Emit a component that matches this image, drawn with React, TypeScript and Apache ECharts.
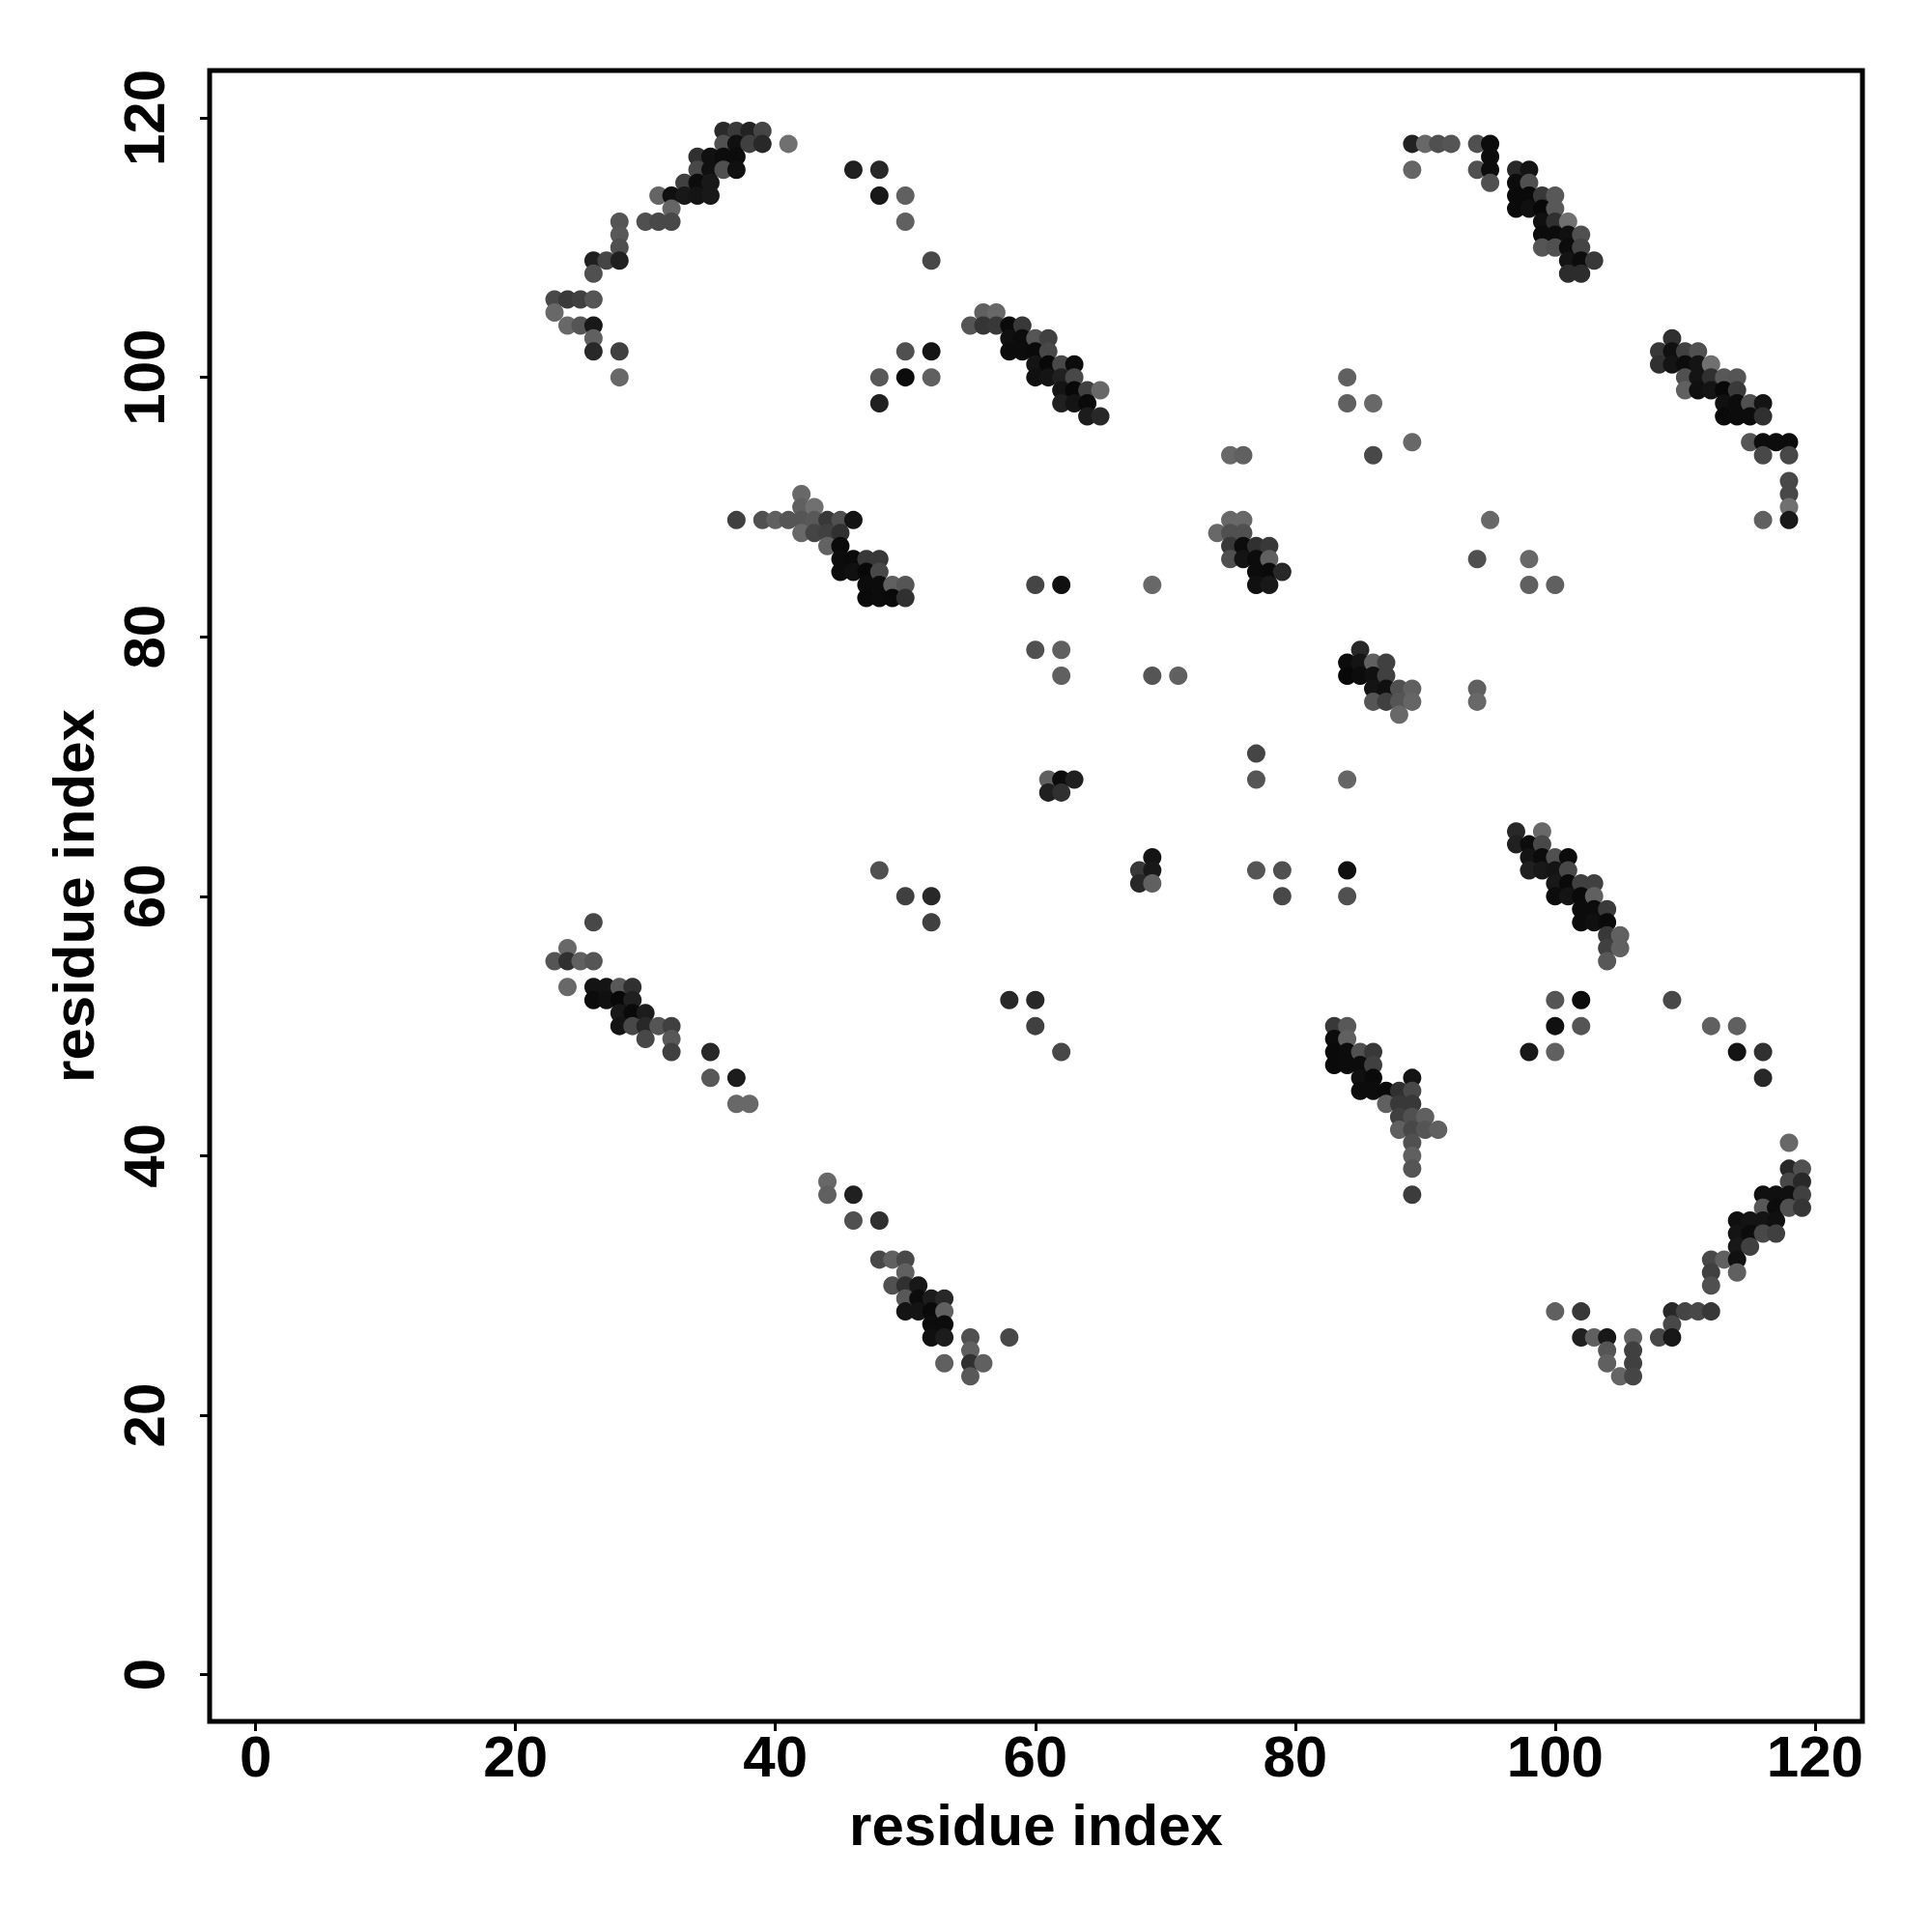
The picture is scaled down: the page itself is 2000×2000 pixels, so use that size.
import React, { useEffect, useRef } from "react";
import * as echarts from "echarts";

type P = [number, number, number];

const xTicks = [0, 20, 40, 60, 80, 100, 120];
const yTicks = [0, 20, 40, 60, 80, 100, 120];
const xName = "residue index";
const yName = "residue index";

// each point: [residue x, residue y, grey level]
const topLeftArc: P[] = [
  [36,119,0x2a],[37,119,0x3a],[38,119,0x22],[39,119,0x45],
  [36,118,0x50],[37,118,0x10],[38,118,0x40],[39,118,0x28],[41,118,0x70],
  [34,117,0x30],[35,117,0x10],[36,117,0x0c],[37,117,0x0c],
  [34,116,0x48],[35,116,0x10],[36,116,0x50],[37,116,0x10],
  [33,115,0x40],[34,115,0x0c],[35,115,0x18],
  [31,114,0x65],[32,114,0x10],[33,114,0x18],[34,114,0x14],[35,114,0x18],
  [32,113,0x65],[30,112,0x50],[31,112,0x48],[32,112,0x48],[28,112,0x55],
  [28,111,0x58],[28,110,0x50],[26,109,0x20],[27,109,0x45],[28,109,0x20],[26,108,0x50],
  [23,106,0x48],[24,106,0x3a],[25,106,0x40],[26,106,0x55],[23,105,0x68],
  [24,104,0x68],[25,104,0x55],[26,104,0x18],[26,103,0x60],[26,102,0x28],[28,102,0x40],[28,100,0x68],
];
const topMiddle: P[] = [
  [46,116,0x20],[48,116,0x28],[48,114,0x18],[50,114,0x60],[50,112,0x60],[52,109,0x48],
  [48,100,0x58],[48,98,0x20],[50,102,0x50],[50,100,0x0c],[52,102,0x14],[52,100,0x60],
];
const topRightArc: P[] = [
  [89,118,0x22],[90,118,0x68],[91,118,0x50],[92,118,0x55],[94,118,0x50],[95,118,0x0c],
  [95,117,0x0c],[89,116,0x65],[94,116,0x50],[95,116,0x0c],[97,116,0x28],[98,116,0x14],
  [95,115,0x50],[97,115,0x0c],[98,115,0x50],
  [97,114,0x0a],[98,114,0x0a],[99,114,0x38],[100,114,0x58],
  [97,113,0x0a],[98,113,0x10],[99,113,0x08],[100,113,0x58],
  [99,112,0x10],[100,112,0x30],[101,112,0x70],
  [99,111,0x0c],[100,111,0x0c],[101,111,0x10],[102,111,0x50],
  [99,110,0x55],[100,110,0x50],[101,110,0x0c],[102,110,0x45],
  [101,109,0x14],[102,109,0x0c],[103,109,0x38],[101,108,0x2c],[102,108,0x2c],
];
const band60: P[] = [
  [56,105,0x60],[57,105,0x68],
  [55,104,0x55],[56,104,0x35],[57,104,0x38],[58,104,0x0a],[59,104,0x38],
  [58,103,0x10],[59,103,0x0c],[60,103,0x55],[61,103,0x40],
  [58,102,0x0c],[59,102,0x0c],[60,102,0x0a],[61,102,0x48],
  [60,101,0x14],[61,101,0x08],[62,101,0x48],[63,101,0x0c],
  [60,100,0x10],[61,100,0x14],[62,100,0x20],[63,100,0x48],
  [62,99,0x14],[63,99,0x08],[64,99,0x40],[65,99,0x68],
  [62,98,0x20],[63,98,0x14],[64,98,0x0a],[64,97,0x1c],[65,97,0x28],
];
const band110: P[] = [
  [109,103,0x30],[108,102,0x38],[109,102,0x10],[110,102,0x40],[111,102,0x50],
  [108,101,0x30],[109,101,0x14],[110,101,0x0c],[111,101,0x14],[112,101,0x70],
  [110,100,0x50],[111,100,0x14],[112,100,0x30],[113,100,0x58],[114,100,0x55],
  [110,99,0x60],[111,99,0x10],[112,99,0x14],[113,99,0x08],[114,99,0x3a],
  [113,98,0x10],[114,98,0x0c],[115,98,0x50],[116,98,0x14],
  [113,97,0x0a],[114,97,0x0c],[115,97,0x0c],[116,97,0x30],
  [115,95,0x55],[116,95,0x0c],[117,95,0x0c],[118,95,0x0c],[116,94,0x48],[118,94,0x48],
  [118,92,0x48],[118,91,0x48],[118,90,0x70],[118,89,0x18],[116,89,0x60],
];
const scatterUpper: P[] = [
  [84,100,0x60],[84,98,0x60],[86,98,0x68],[86,94,0x48],[89,95,0x68],[75,94,0x68],[76,94,0x60],
  [95,89,0x68],[94,86,0x50],[98,86,0x68],[98,84,0x60],[100,84,0x60],
  [60,84,0x45],[62,84,0x10],[69,84,0x68],[60,79,0x50],[62,79,0x60],[62,77,0x60],[69,77,0x55],[71,77,0x60],
];
const band45: P[] = [
  [42,91,0x68],[42,90,0x60],[43,90,0x70],
  [37,89,0x40],[39,89,0x50],[40,89,0x60],[41,89,0x55],[42,89,0x55],[43,89,0x58],[44,89,0x38],[45,89,0x50],[46,89,0x14],
  [42,88,0x68],[43,88,0x45],[44,88,0x40],[45,88,0x30],[44,87,0x62],[45,87,0x0a],
  [45,86,0x0c],[46,86,0x0a],[47,86,0x38],[48,86,0x38],
  [45,85,0x0c],[46,85,0x10],[47,85,0x08],[48,85,0x48],
  [47,84,0x0c],[48,84,0x0c],[49,84,0x60],[50,84,0x55],
  [47,83,0x0a],[48,83,0x0c],[49,83,0x0a],[50,83,0x30],
];
const band76: P[] = [
  [75,89,0x68],[76,89,0x68],[74,88,0x68],[75,88,0x50],[76,88,0x50],
  [75,87,0x38],[76,87,0x0c],[77,87,0x30],[78,87,0x38],
  [75,86,0x50],[76,86,0x14],[77,86,0x0c],[78,86,0x60],
  [77,85,0x0c],[78,85,0x0a],[79,85,0x28],[77,84,0x10],[78,84,0x18],
];
const band85: P[] = [
  [85,79,0x28],[84,78,0x0c],[85,78,0x14],[86,78,0x60],[87,78,0x40],
  [84,77,0x08],[85,77,0x0c],[86,77,0x10],[87,77,0x40],
  [86,76,0x14],[87,76,0x10],[88,76,0x50],[89,76,0x60],
  [86,75,0x55],[87,75,0x40],[88,75,0x55],[89,75,0x65],[88,74,0x68],
  [94,76,0x60],[94,75,0x68],
];
const scatterMiddle: P[] = [
  [77,71,0x45],[77,69,0x55],[84,69,0x65],[61,69,0x60],[62,69,0x0c],[63,69,0x20],[61,68,0x20],[62,68,0x30],
  [69,63,0x14],[68,62,0x38],[69,62,0x18],[68,61,0x28],[69,61,0x60],
  [48,62,0x50],[50,60,0x40],[52,60,0x28],[52,58,0x40],
  [77,62,0x55],[79,62,0x50],[79,60,0x48],[84,62,0x10],[84,60,0x50],
];
const band100: P[] = [
  [97,65,0x28],[99,65,0x68],[97,64,0x20],[98,64,0x0c],[99,64,0x48],
  [98,63,0x14],[99,63,0x0c],[100,63,0x50],[101,63,0x0c],
  [98,62,0x20],[99,62,0x18],[100,62,0x14],[101,62,0x48],
  [100,61,0x18],[101,61,0x0a],[102,61,0x40],[103,61,0x40],
  [100,60,0x0c],[101,60,0x14],[102,60,0x0a],[103,60,0x60],
  [102,59,0x0c],[103,59,0x0c],[104,59,0x3a],[102,58,0x0c],[103,58,0x10],[104,58,0x0a],
  [104,57,0x38],[105,57,0x60],[104,56,0x40],[105,56,0x60],[104,55,0x58],
];
const scatterLower: P[] = [
  [100,52,0x55],[102,52,0x0c],[100,50,0x10],[102,50,0x55],[98,48,0x18],[100,48,0x60],
  [109,52,0x48],[112,50,0x60],[114,50,0x60],[114,48,0x14],[116,48,0x30],[116,46,0x28],
  [58,52,0x28],[60,52,0x28],[60,50,0x40],[62,48,0x48],
];
const band28: P[] = [
  [26,58,0x48],[24,56,0x68],[23,55,0x55],[24,55,0x30],[25,55,0x60],[26,55,0x55],
  [24,53,0x68],[26,53,0x14],[27,53,0x14],[28,53,0x58],[29,53,0x30],
  [26,52,0x0c],[27,52,0x10],[28,52,0x08],[29,52,0x20],
  [28,51,0x18],[29,51,0x0a],[30,51,0x1c],
  [28,50,0x14],[29,50,0x48],[30,50,0x28],[31,50,0x55],[32,50,0x40],
  [30,49,0x48],[32,49,0x58],[32,48,0x40],[35,48,0x28],[35,46,0x58],[37,46,0x1c],[37,44,0x68],[38,44,0x68],
];
const band85Lower: P[] = [
  [83,50,0x38],[84,50,0x58],[83,49,0x0c],[84,49,0x60],
  [83,48,0x0a],[84,48,0x0c],[85,48,0x50],[86,48,0x38],
  [83,47,0x0a],[84,47,0x0c],[85,47,0x0c],[86,47,0x40],
  [85,46,0x10],[86,46,0x0a],[89,46,0x14],
  [85,45,0x0c],[86,45,0x0c],[87,45,0x0a],[88,45,0x30],[89,45,0x48],
  [87,44,0x60],[88,44,0x38],[89,44,0x38],
  [88,43,0x40],[89,43,0x50],[90,43,0x60],
  [88,42,0x60],[89,42,0x48],[90,42,0x55],[91,42,0x60],
  [89,41,0x50],[89,40,0x60],[89,39,0x55],[89,37,0x3c],
];
const band50Lower: P[] = [
  [44,38,0x68],[44,37,0x60],[46,37,0x20],[46,35,0x50],[48,35,0x30],
  [48,32,0x48],[49,32,0x60],[50,32,0x48],[50,31,0x60],
  [49,30,0x50],[50,30,0x30],[51,30,0x18],
  [50,29,0x58],[51,29,0x0c],[52,29,0x1c],[53,29,0x28],
  [50,28,0x14],[51,28,0x14],[52,28,0x0a],[53,28,0x60],
  [52,27,0x0c],[53,27,0x0c],[52,26,0x10],[53,26,0x1c],[55,26,0x50],[58,26,0x48],
  [55,25,0x60],[53,24,0x60],[55,24,0x30],[56,24,0x60],[55,23,0x58],
];
const bottomRightArc: P[] = [
  [118,41,0x68],[118,39,0x28],[119,39,0x50],[118,38,0x48],[119,38,0x28],
  [116,37,0x10],[117,37,0x10],[118,37,0x10],[119,37,0x40],
  [116,36,0x58],[117,36,0x0c],[118,36,0x50],[119,36,0x35],
  [114,35,0x10],[115,35,0x14],[116,35,0x14],[117,35,0x10],
  [114,34,0x14],[115,34,0x0c],[116,34,0x48],[117,34,0x40],
  [114,33,0x18],[115,33,0x40],[112,32,0x48],[113,32,0x60],[114,32,0x10],
  [112,31,0x40],[114,31,0x60],[112,30,0x50],
  [109,28,0x28],[110,28,0x45],[111,28,0x48],[112,28,0x38],[100,28,0x60],[102,28,0x38],
  [109,27,0x48],[108,26,0x48],[109,26,0x18],
  [102,26,0x20],[103,26,0x60],[104,26,0x18],[106,26,0x60],
  [104,25,0x55],[106,25,0x40],[104,24,0x60],[106,24,0x40],[105,23,0x65],[106,23,0x45],
];

const allPoints: P[] = [
  ...topLeftArc, ...topMiddle, ...topRightArc, ...band60, ...band110, ...scatterUpper,
  ...band45, ...band76, ...band85, ...scatterMiddle, ...band100, ...scatterLower,
  ...band28, ...band85Lower, ...band50Lower, ...bottomRightArc,
];

const FONT = "'Liberation Sans', Arial, sans-serif";
const FONT_SIZE = 60;

export default function App() {
  const ref = useRef<HTMLDivElement>(null);
  useEffect(() => {
    const chart = echarts.init(ref.current!, undefined, { renderer: "svg" });
    const axisCommon = {
      type: "value" as const,
      splitLine: { show: false },
      axisLine: { show: false, onZero: false },
      nameLocation: "middle" as const,
      nameTextStyle: { fontFamily: FONT, fontWeight: "bold" as const, fontSize: FONT_SIZE, color: "#000" },
    };
    chart.setOption({
      animation: false,
      backgroundColor: "#fff",
      grid: {
        left: 217,
        top: 73,
        width: 1711,
        height: 1709,
        show: true,
        borderColor: "#000",
        borderWidth: 5,
        backgroundColor: "#fff",
      },
      visualMap: {
        show: false,
        type: "continuous",
        dimension: 2,
        min: 0,
        max: 255,
        inRange: { color: ["#000000", "#ffffff"] },
      },
      xAxis: {
        ...axisCommon,
        min: -3.54,
        max: 123.65,
        name: xName,
        nameGap: 77,
        axisTick: { show: true, length: 10, lineStyle: { color: "#000", width: 3 }, customValues: xTicks },
        axisLabel: {
          show: true, margin: 6, fontFamily: FONT, fontWeight: "bold", fontSize: FONT_SIZE, color: "#000",
          customValues: xTicks, hideOverlap: false,
        },
      },
      yAxis: {
        ...axisCommon,
        min: -3.6,
        max: 123.65,
        name: yName,
        nameGap: 111,
        axisTick: { show: true, length: 10, lineStyle: { color: "#000", width: 3 }, customValues: yTicks },
        axisLabel: {
          show: true, margin: 38, rotate: 90, fontFamily: FONT, fontWeight: "bold", fontSize: FONT_SIZE, color: "#000",
          customValues: yTicks, hideOverlap: false, align: "center", verticalAlign: "bottom",
        },
      },
      series: [
        {
          type: "scatter",
          data: allPoints,
          symbol: "circle",
          symbolSize: 19,
          silent: true,
          itemStyle: { opacity: 1 },
        },
      ],
    });
    return () => chart.dispose();
  }, []);
  return <div ref={ref} style={{ position: "absolute", left: 0, top: 0, width: 2000, height: 2000 }} />;
}
